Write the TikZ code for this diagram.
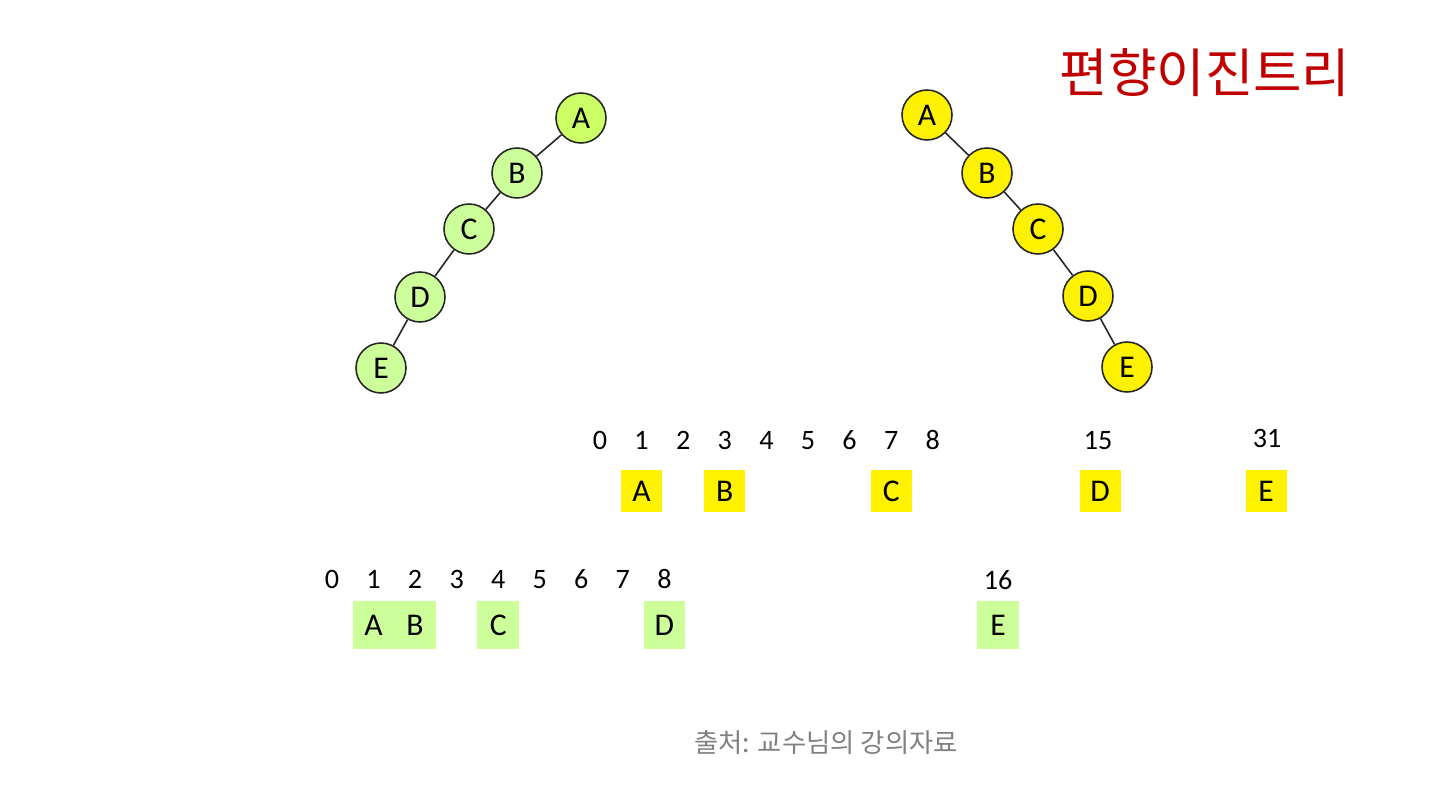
\documentclass[tikz,border=0pt]{standalone}
\usepackage{fontspec}
\setmainfont{Carlito}
\newfontfamily\krfont{Noto Sans CJK KR}
\usepackage{xcolor}
\usetikzlibrary{positioning, calc}

\definecolor{treegreen}{RGB}{204,255,153}
\definecolor{rootgreen}{RGB}{204,255,102}
\definecolor{titlered}{RGB}{192,0,0}
\definecolor{capgray}{RGB}{128,128,128}

\begin{document}
\begin{tikzpicture}[
		x=0.02cm, y=-0.02cm,
		gnode/.style={circle, draw=black!85, line width=0.9pt, fill=treegreen, minimum size=1cm, inner sep=0pt, font=\fontsize{18}{21}\selectfont},
		ynode/.style={gnode, fill=yellow},
		edge/.style={draw=black!85, line width=0.9pt},
		idx/.style={font=\fontsize{16}{19}\selectfont, inner sep=0pt, text height=1.5ex, text depth=0pt},
		ybox/.style={rectangle, fill=yellow, minimum width=0.82cm, minimum height=0.86cm, inner sep=0pt, font=\fontsize{18}{21}\selectfont},
		gbox/.style={rectangle, fill=treegreen, minimum width=0.83cm, minimum height=0.98cm, inner sep=0pt, font=\fontsize{18}{21}\selectfont}
	]
	
	\useasboundingbox (0,0) rectangle (1450,786);
	
	% left-skewed tree
	\node [gnode, fill=rootgreen] (gA) at (581,118) {A};
	\node [gnode] (gB) at (517,173) {B};
	\node [gnode] (gC) at (469,229) {C};
	\node [gnode] (gD) at (420,297) {D};
	\node [gnode] (gE) at (381,368) {E};
	\draw [edge] (gA) -- (gB);
	\draw [edge] (gB) -- (gC);
	\draw [edge] (gC) -- (gD);
	\draw [edge] (gD) -- (gE);
	
	% right-skewed tree
	\node [ynode] (yA) at (927,115) {A};
	\node [ynode] (yB) at (987,173) {B};
	\node [ynode] (yC) at (1038,229) {C};
	\node [ynode] (yD) at (1088,296) {D};
	\node [ynode] (yE) at (1127,367) {E};
	\draw [edge] (yA) -- (yB);
	\draw [edge] (yB) -- (yC);
	\draw [edge] (yC) -- (yD);
	\draw [edge] (yD) -- (yE);
	
	\node [font=\krfont\fontsize{30}{33}\selectfont, text=titlered] (title) at (1205,73) {편향이진트리};
	
	% array of the right-skewed tree
	\foreach \i in {0,...,8}
		\node [idx] (up\i) at ({600+41.6*\i},443) {\i};
	\node [idx] (up15) at (1098,443) {15};
	\node [idx] (up31) at (1267,441) {31};
	
	\node [ybox] (ayA) at (up1 |- 0,491) {A};
	\node [ybox] (ayB) at (up3 |- 0,491) {B};
	\node [ybox] (ayC) at (up7 |- 0,491) {C};
	\node [ybox] (ayD) at (1100,491) {D};
	\node [ybox] (ayE) at (1266,491) {E};
	
	% array of the left-skewed tree
	\foreach \i in {0,...,8}
		\node [idx] (lo\i) at ({332+41.55*\i},582) {\i};
	\node [idx] (lo16) at (998,583) {16};
	
	\node [gbox] (agA) at (lo1 |- 0,625) {A};
	\node [gbox, right=-0.4pt of agA] (agB) {B};
	\node [gbox] (agC) at (lo4 |- 0,625) {C};
	\node [gbox] (agD) at (lo8 |- 0,625) {D};
	\node [gbox] (agE) at (lo16 |- 0,625) {E};
	
	\node [font=\krfont\fontsize{15}{18}\selectfont, text=capgray] (source) at (826,743) {출처: 교수님의 강의자료};
\end{tikzpicture}
\end{document}
